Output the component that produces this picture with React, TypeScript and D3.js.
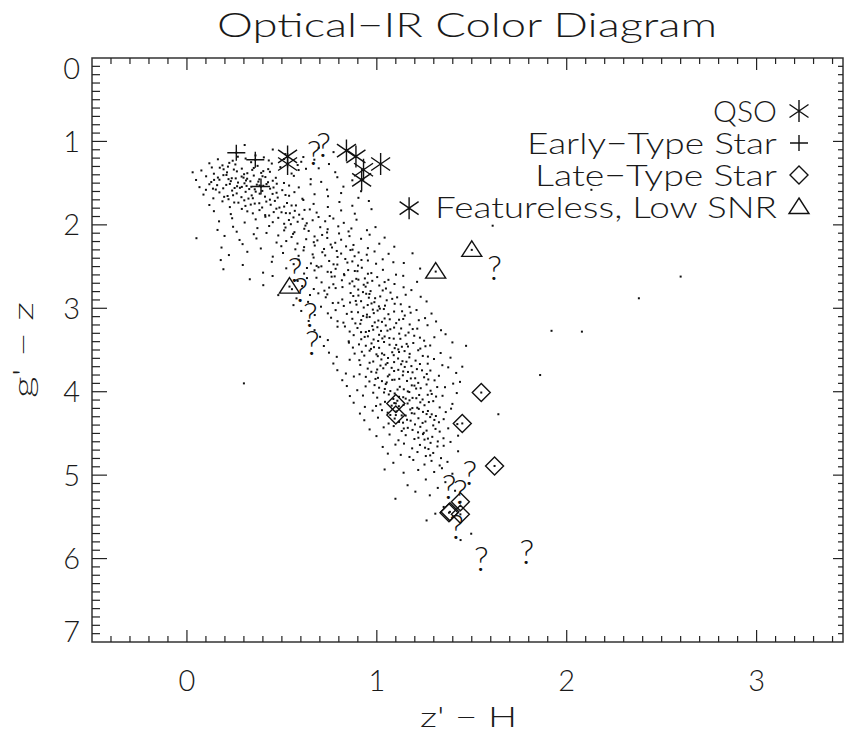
import * as d3 from "d3";
import { useRef, useEffect } from "react";

// axis tick labels
const xTickLabels = ["0", "1", "2", "3"];
const yTickLabels = ["0", "1", "2", "3", "4", "5", "6", "7"];

// background sample, one [z'-H values, g'-z values] pair per 0.1 strip of g'-z
const upperRows: [number[], number[]][] = [
  [[0.304,0.452,0.361,0.518,0.613,0.772,0.268,0.694,0.405],
   [1.043,1.097,1.168,1.152,1.187,1.128,1.183,1.076,1.191]],
  [[0.118,0.163,0.187,0.241,0.255,0.309,0.338,0.372,0.431,0.447,0.512,0.583,0.602,0.671,0.748,0.223],
   [1.262,1.214,1.287,1.231,1.276,1.205,1.249,1.293,1.228,1.265,1.211,1.283,1.244,1.219,1.271,1.257]],
  [[0.076,0.131,0.142,0.193,0.211,0.216,0.263,0.289,0.301,0.344,0.352,0.391,0.428,0.437,0.492,0.551,0.588,0.694,0.781,0.247,0.318,0.173,0.402,0.627],
   [1.348,1.312,1.387,1.334,1.371,1.302,1.359,1.326,1.393,1.341,1.318,1.377,1.332,1.364,1.308,1.385,1.343,1.322,1.369,1.337,1.381,1.315,1.356,1.328]],
  [[0.048,0.101,0.128,0.163,0.171,0.208,0.231,0.236,0.269,0.288,0.311,0.317,0.352,0.376,0.381,0.413,0.452,0.468,0.511,0.563,0.652,0.707,0.792,0.871,0.192,0.257,0.334,0.398,0.143,0.298,0.427,0.219],
   [1.462,1.418,1.487,1.433,1.459,1.402,1.476,1.441,1.493,1.421,1.468,1.447,1.409,1.482,1.454,1.427,1.471,1.436,1.498,1.413,1.452,1.485,1.429,1.466,1.404,1.443,1.478,1.417,1.461,1.434,1.489,1.452]],
  [[0.066,0.118,0.152,0.159,0.191,0.226,0.238,0.264,0.279,0.303,0.328,0.339,0.368,0.397,0.402,0.438,0.473,0.502,0.538,0.589,0.651,0.738,0.824,0.917,0.207,0.251,0.314,0.357,0.419,0.137,0.289,0.382,0.456],
   [1.548,1.513,1.577,1.524,1.562,1.509,1.589,1.537,1.556,1.502,1.571,1.543,1.518,1.593,1.531,1.566,1.507,1.584,1.529,1.551,1.514,1.578,1.542,1.597,1.521,1.558,1.533,1.574,1.511,1.566,1.545,1.528,1.552]],
  [[0.087,0.139,0.171,0.214,0.219,0.262,0.287,0.309,0.341,0.347,0.383,0.411,0.437,0.472,0.478,0.519,0.566,0.608,0.672,0.743,0.812,0.903,0.243,0.362,0.196,0.451,0.324,0.538],
   [1.637,1.682,1.611,1.654,1.693,1.623,1.668,1.604,1.647,1.681,1.626,1.662,1.698,1.615,1.673,1.642,1.608,1.687,1.633,1.657,1.619,1.676,1.645,1.602,1.664,1.629,1.685,1.651]],
  [[0.118,0.187,0.226,0.271,0.302,0.308,0.357,0.396,0.418,0.441,0.463,0.512,0.527,0.574,0.613,0.667,0.742,0.803,0.871,0.958,0.336,0.487,0.249,0.551,0.381],
   [1.762,1.718,1.787,1.734,1.706,1.773,1.745,1.792,1.721,1.759,1.713,1.781,1.738,1.767,1.702,1.749,1.786,1.726,1.771,1.714,1.757,1.793,1.732,1.768,1.741]],
  [[0.142,0.231,0.289,0.347,0.382,0.433,0.457,0.471,0.521,0.568,0.591,0.647,0.683,0.752,0.812,0.884,0.972,0.498,0.412,0.619,0.542,0.318],
   [1.836,1.871,1.809,1.862,1.823,1.888,1.847,1.806,1.859,1.832,1.878,1.815,1.853,1.894,1.827,1.866,1.812,1.849,1.883,1.821,1.861,1.838]],
  [[0.169,0.238,0.304,0.362,0.413,0.452,0.481,0.512,0.537,0.561,0.583,0.609,0.631,0.662,0.693,0.728,0.771,0.826,0.893,0.547],
   [1.958,1.921,1.972,1.934,1.903,1.968,1.916,1.987,1.942,1.911,1.963,1.928,1.981,1.945,1.906,1.957,1.924,1.976,1.938,1.992]],
];

const middleRows: [number[], number[]][] = [
  [[0.161,0.243,0.262,0.371,0.419,0.433,0.512,0.519,0.566,0.618,0.624,0.641,0.702,0.738,0.741,0.797,0.851,0.866,0.948,0.993],
   [2.061,2.023,2.082,2.039,2.097,2.014,2.066,2.032,2.088,2.047,2.009,2.073,2.028,2.091,2.052,2.018,2.079,2.043,2.064,2.027]],
  [[0.198,0.277,0.352,0.366,0.481,0.523,0.551,0.559,0.628,0.672,0.687,0.712,0.739,0.801,0.812,0.856,0.917,0.962,1.041],
   [2.133,2.181,2.112,2.163,2.127,2.194,2.146,2.108,2.172,2.139,2.186,2.121,2.157,2.103,2.178,2.135,2.167,2.118,2.153]],
  [[0.182,0.293,0.389,0.472,0.497,0.571,0.582,0.617,0.668,0.673,0.722,0.757,0.764,0.781,0.838,0.872,0.877,0.953,1.013,1.092],
   [2.272,2.231,2.283,2.212,2.256,2.293,2.224,2.267,2.208,2.248,2.289,2.236,2.271,2.215,2.258,2.297,2.241,2.279,2.226,2.262]],
  [[0.221,0.318,0.452,0.506,0.588,0.614,0.662,0.667,0.713,0.728,0.789,0.793,0.812,0.861,0.883,0.904,0.947,0.988,1.062,1.188],
   [2.362,2.323,2.381,2.337,2.371,2.306,2.354,2.392,2.328,2.366,2.313,2.385,2.344,2.302,2.376,2.331,2.358,2.319,2.347,2.341]],
  [[0.178,0.294,0.447,0.562,0.588,0.653,0.708,0.749,0.792,0.834,0.845,0.901,0.953,0.996,1.031,1.142,0.683,0.871,0.772,1.087,0.919],
   [2.422,2.481,2.443,2.471,2.418,2.462,2.497,2.433,2.476,2.409,2.452,2.488,2.427,2.466,2.413,2.457,2.492,2.438,2.473,2.448,2.421]],
  [[0.192,0.401,0.523,0.617,0.672,0.693,0.741,0.783,0.827,0.884,0.921,0.971,1.032,1.101,1.228,0.759,0.849,0.953,0.632,0.898],
   [2.532,2.573,2.521,2.584,2.546,2.508,2.563,2.527,2.591,2.553,2.514,2.578,2.539,2.597,2.524,2.568,2.542,2.586,2.517,2.555]],
  [[0.331,0.451,0.583,0.632,0.709,0.762,0.816,0.829,0.871,0.937,0.951,1.002,1.061,1.139,1.212,0.892,0.778,0.976,0.682,1.041,0.903],
   [2.652,2.613,2.672,2.638,2.689,2.621,2.664,2.603,2.677,2.642,2.694,2.626,2.659,2.611,2.683,2.647,2.618,2.671,2.634,2.686,2.657]],
  [[0.402,0.553,0.607,0.724,0.771,0.783,0.857,0.902,0.941,0.967,1.013,1.048,1.093,1.182,0.819,0.931,0.668,0.882,1.031,0.749,1.141],
   [2.723,2.771,2.734,2.789,2.712,2.758,2.703,2.776,2.741,2.794,2.727,2.763,2.709,2.782,2.746,2.718,2.769,2.737,2.786,2.752,2.748]],
  [[0.481,0.577,0.692,0.731,0.739,0.818,0.903,0.927,0.958,0.961,1.018,1.072,1.081,1.152,1.231,0.862,0.991,0.648,1.107,0.944,0.876],
   [2.842,2.881,2.821,2.868,2.833,2.894,2.847,2.806,2.873,2.829,2.858,2.812,2.887,2.838,2.862,2.817,2.879,2.841,2.869,2.826,2.853]],
  [[0.561,0.638,0.706,0.797,0.826,0.889,0.893,0.931,0.987,1.043,1.052,1.094,1.172,1.262,0.952,0.768,1.011,0.917,1.126,0.859,0.972],
   [2.962,2.923,2.981,2.934,2.972,2.912,2.956,2.991,2.927,2.968,2.904,2.946,2.983,2.918,2.961,2.937,2.977,2.915,2.952,2.931,2.942]],
  [[0.602,0.673,0.783,0.842,0.867,0.928,0.979,0.984,1.016,1.061,1.133,1.147,1.209,1.288,0.901,1.037,0.948,1.091,0.742,1.004,1.178],
   [3.032,3.081,3.022,3.067,3.043,3.092,3.016,3.058,3.004,3.071,3.036,3.087,3.021,3.063,3.048,3.009,3.076,3.039,3.061,3.027,3.053]],
  [[0.641,0.759,0.824,0.871,0.913,0.918,0.962,1.027,1.041,1.102,1.117,1.173,1.254,1.312,0.947,0.989,1.068,0.887,1.008,1.139,0.793,1.221],
   [3.152,3.113,3.172,3.126,3.186,3.141,3.104,3.163,3.122,3.178,3.137,3.194,3.118,3.158,3.107,3.169,3.132,3.181,3.147,3.128,3.155,3.143]],
  [[0.672,0.793,0.857,0.898,0.942,0.976,0.981,1.047,1.056,1.091,1.167,1.213,1.267,1.338,1.003,0.917,1.128,1.022,0.832,1.071,1.189,0.959],
   [3.262,3.221,3.279,3.236,3.284,3.213,3.257,3.206,3.268,3.231,3.291,3.244,3.203,3.263,3.227,3.286,3.242,3.271,3.218,3.251,3.249,3.272]],
  [[0.701,0.742,0.878,0.918,0.953,1.007,1.012,1.066,1.118,1.124,1.197,1.249,1.303,1.362,0.983,1.041,0.852,1.151,1.089,0.936,1.227,1.029],
   [3.342,3.381,3.322,3.371,3.336,3.392,3.318,3.357,3.304,3.366,3.329,3.388,3.347,3.311,3.374,3.338,3.396,3.325,3.364,3.343,3.352,3.361]],
];

const lowerRows: [number[], number[]][] = [
  [[0.721,0.853,0.874,0.906,0.969,0.972,0.985,1.038,1.094,1.102,1.113,1.157,1.164,1.192,1.229,1.281,1.398,1.012,1.067,1.132,1.256,0.942],
   [3.452,3.412,3.471,3.433,3.487,3.421,3.466,3.404,3.478,3.439,3.493,3.427,3.458,3.416,3.483,3.446,3.409,3.474,3.437,3.461,3.455,3.449]],
  [[0.748,0.789,0.921,0.934,0.962,1.005,1.027,1.059,1.081,1.089,1.146,1.171,1.173,1.218,1.242,1.336,1.388,1.117,1.039,0.883,1.269,0.998],
   [3.532,3.582,3.521,3.567,3.508,3.574,3.541,3.596,3.527,3.562,3.513,3.588,3.546,3.503,3.571,3.536,3.592,3.524,3.558,3.543,3.579,3.552]],
  [[0.771,0.908,0.913,0.981,1.019,1.024,1.056,1.112,1.128,1.135,1.182,1.204,1.268,1.301,1.345,1.091,0.857,1.047,1.156,0.962,1.227],
   [3.662,3.622,3.679,3.638,3.687,3.613,3.656,3.602,3.671,3.634,3.693,3.627,3.664,3.608,3.682,3.645,3.617,3.674,3.641,3.653,3.668]],
  [[0.792,0.837,0.952,0.997,1.002,1.066,1.078,1.139,1.147,1.188,1.211,1.263,1.282,1.376,1.418,1.113,0.909,1.034,1.164,1.238,1.091,0.971],
   [3.742,3.782,3.723,3.771,3.734,3.796,3.714,3.757,3.703,3.768,3.729,3.788,3.746,3.708,3.775,3.738,3.791,3.719,3.763,3.744,3.752,3.761]],
  [[0.818,0.942,0.961,1.006,1.052,1.058,1.093,1.137,1.159,1.202,1.218,1.249,1.304,1.327,1.438,1.118,0.879,1.027,1.179,1.271,1.081,0.993],
   [3.862,3.822,3.877,3.834,3.889,3.816,3.856,3.803,3.871,3.839,3.894,3.827,3.864,3.809,3.882,3.846,3.818,3.873,3.841,3.853,3.858,3.847]],
  [[0.842,0.897,0.988,1.042,1.047,1.109,1.121,1.163,1.198,1.207,1.262,1.283,1.359,1.402,1.142,0.941,1.071,1.184,1.231,1.012,1.318],
   [3.932,3.982,3.921,3.967,3.908,3.974,3.941,3.996,3.927,3.962,3.913,3.988,3.946,3.903,3.971,3.936,3.992,3.924,3.958,3.952,3.944]],
  [[0.858,0.981,1.002,1.063,1.087,1.094,1.139,1.171,1.208,1.223,1.241,1.289,1.312,1.421,1.152,0.927,1.038,1.188,1.268,1.117,1.346],
   [4.052,4.012,4.071,4.033,4.087,4.021,4.066,4.004,4.078,4.039,4.093,4.027,4.058,4.016,4.083,4.046,4.009,4.074,4.037,4.061,4.049]],
  [[0.878,0.937,1.043,1.078,1.108,1.116,1.162,1.187,1.229,1.251,1.297,1.331,1.398,1.172,0.996,1.092,1.213,1.274,1.141,1.019],
   [4.132,4.182,4.121,4.167,4.108,4.174,4.141,4.196,4.127,4.162,4.113,4.188,4.146,4.103,4.171,4.136,4.192,4.124,4.158,4.152]],
  [[0.911,1.027,1.071,1.103,1.131,1.176,1.184,1.221,1.262,1.269,1.311,1.363,1.391,1.198,0.978,1.152,1.243,1.289,1.057],
   [4.262,4.221,4.279,4.236,4.284,4.213,4.257,4.206,4.268,4.231,4.291,4.244,4.203,4.263,4.227,4.286,4.242,4.271,4.251]],
  [[0.934,1.062,1.094,1.138,1.159,1.201,1.219,1.256,1.281,1.327,1.352,1.424,1.178,1.006,1.241,1.303,1.117],
   [4.342,4.381,4.322,4.371,4.336,4.392,4.318,4.357,4.304,4.366,4.329,4.388,4.347,4.311,4.374,4.338,4.362]],
  [[0.962,1.089,1.131,1.163,1.217,1.229,1.262,1.297,1.331,1.376,1.247,1.036,1.188,1.309,1.142],
   [4.452,4.412,4.471,4.433,4.487,4.421,4.466,4.404,4.478,4.439,4.493,4.427,4.458,4.446,4.441]],
  [[0.998,1.114,1.152,1.198,1.243,1.251,1.292,1.321,1.428,1.269,1.067,1.219,1.351],
   [4.532,4.582,4.521,4.567,4.508,4.574,4.541,4.596,4.527,4.562,4.513,4.552,4.558]],
  [[1.031,1.143,1.186,1.227,1.272,1.283,1.319,1.388,1.254,1.098,1.352],
   [4.662,4.622,4.679,4.638,4.687,4.613,4.656,4.602,4.671,4.634,4.648]],
  [[1.058,1.172,1.214,1.258,1.297,1.338,1.428,1.126,1.281],
   [4.742,4.782,4.723,4.771,4.734,4.796,4.714,4.757,4.763]],
  [[1.087,1.192,1.251,1.288,1.331,1.372,1.041,1.141,1.218,1.302,1.343,1.398],
   [4.852,4.818,4.873,4.829,4.884,4.841,4.932,4.971,4.938,4.962,4.917,4.983]],
  [[1.162,1.098,1.258,1.321,1.203,1.361,1.279,1.412,1.262,1.497,1.352,1.308,1.441],
   [5.121,5.283,5.052,5.153,5.198,5.084,5.242,5.187,5.543,5.702,5.381,5.462,5.778]],
];

const outliers: [number, number][] = [
  [0.03,1.37],[0.1,1.58],[0.05,2.16],[0.3,3.9],[1.61,2.01],[2.13,1.58],[2.6,2.62],
  [2.38,2.88],[2.08,3.28],[1.92,3.27],[1.86,3.8],[1.64,4.27],[1.45,3.7],[1.47,3.45],
];

// classified objects
const qso: [number, number][] = [
  [0.53,1.18],[0.53,1.27],[0.84,1.11],[0.89,1.18],[1.02,1.27],[0.93,1.34],[0.92,1.46],[1.17,1.8],
];
const earlyType: [number, number][] = [[0.26,1.135],[0.36,1.22],[0.39,1.54]];
const lateType: [number, number][] = [
  [1.55,4.01],[1.45,4.38],[1.62,4.89],[1.44,5.32],[1.44,5.47],[1.38,5.45],[1.385,5.44],[1.1,4.14],[1.1,4.28],
];
const featureless: [number, number][] = [[0.54,2.74],[1.5,2.3],[1.31,2.56]];
const unknown: [number, number][] = [
  [0.67,1.14],[0.72,1.04],[0.57,2.54],[0.6,2.78],[0.65,3.08],[0.66,3.42],[1.62,2.52],
  [1.49,4.98],[1.38,5.14],[1.44,5.2],[1.42,5.62],[1.55,6.0],[1.79,5.92],
];

const legendItems = [
  { label: "QSO", sym: "asterisk", width: 64 },
  { label: "Early\u2212Type Star", sym: "plus", width: 250 },
  { label: "Late\u2212Type Star", sym: "diamond", width: 242 },
  { label: "Featureless, Low SNR", sym: "triangle", width: 342 },
];

const FONT = "Lato, 'DejaVu Sans', sans-serif";
const INK = "#1a1a1a";

const zipRows = (rows: [number[], number[]][]) =>
  rows.flatMap(([xs, ys]) => d3.zip(xs, ys) as [number, number][]);

const Chart = () => {
  const svgRef = useRef<SVGSVGElement | null>(null);
  const width = 844;
  const height = 734;
  const left = 92, right = 843, top = 58, bottom = 642;

  useEffect(() => {
    document.body.style.margin = "0";
    if (!svgRef.current) return;
    const svg = d3.select(svgRef.current);
    svg.selectAll("*").remove();

    const x = d3.scaleLinear().domain([-0.5, 3.455]).range([left, right]);
    const y = d3.scaleLinear().domain([0, 7]).range([top, bottom]);

    const addText = (
      tx: number, ty: number, str: string, size: number, len?: number, anchor = "start"
    ) => {
      const t = svg.append("text")
        .attr("x", tx).attr("y", ty)
        .attr("font-family", FONT).attr("font-weight", 300)
        .attr("font-size", size).attr("fill", INK)
        .attr("text-anchor", anchor)
        .text(str);
      if (len) t.attr("textLength", len).attr("lengthAdjust", "spacingAndGlyphs");
      return t;
    };

    // symbol drawers
    const drawSym = (g: any, kind: string, cx: number, cy: number) => {
      const s = g.append("g").attr("transform", `translate(${cx},${cy})`)
        .attr("stroke", "#111").attr("stroke-width", 1.4).attr("fill", "none");
      if (kind === "asterisk") {
        s.append("path").attr("d", "M0,-11V11M-9.5,-6.5L9.5,6.5M-9.5,6.5L9.5,-6.5");
      } else if (kind === "plus") {
        s.append("path").attr("d", "M-9,0H9M0,-8V8");
      } else if (kind === "diamond") {
        s.append("path").attr("d", "M0,-9L9,0L0,9L-9,0Z");
      } else if (kind === "triangle") {
        s.append("path").attr("d", "M0,-9L10,6.5H-10Z");
      }
    };

    // scatter dots
    const dots = [...zipRows(upperRows), ...zipRows(middleRows), ...zipRows(lowerRows), ...outliers];
    svg.append("g")
      .selectAll("rect")
      .data(dots)
      .join("rect")
      .attr("x", (d) => x(d[0]) - 1)
      .attr("y", (d) => y(d[1]) - 1)
      .attr("width", 2)
      .attr("height", 2)
      .attr("fill", "#111");

    // classified objects
    const marks = svg.append("g");
    const groups: [string, [number, number][]][] = [
      ["asterisk", qso], ["plus", earlyType], ["diamond", lateType], ["triangle", featureless],
    ];
    groups.forEach(([kind, pts]) => {
      pts.forEach((p) => {
        drawSym(marks, kind, x(p[0]), y(p[1]));
        marks.append("rect").attr("x", x(p[0]) - 1).attr("y", y(p[1]) - 1)
          .attr("width", 2).attr("height", 2).attr("fill", "#111");
      });
    });
    marks.selectAll("text.q")
      .data(unknown)
      .join("text")
      .attr("class", "q")
      .attr("x", (d) => x(d[0]))
      .attr("y", (d) => y(d[1]) + 12)
      .attr("text-anchor", "middle")
      .attr("font-family", FONT).attr("font-weight", 300)
      .attr("font-size", 34).attr("fill", "#111")
      .text("?");

    // frame
    svg.append("rect")
      .attr("x", left).attr("y", top)
      .attr("width", right - left).attr("height", bottom - top)
      .attr("fill", "none").attr("stroke", "#333").attr("stroke-width", 1.5);

    // ticks
    const xt = d3.range(-4, 35).map((i) => i / 10);
    const yt = d3.range(1, 70).map((i) => i / 10);
    const isMajor = (v: number) => Math.abs(v - Math.round(v)) < 1e-6;
    const tickG = svg.append("g").attr("stroke", "#222").attr("stroke-width", 1.2);
    xt.forEach((v) => {
      const L = isMajor(v) ? 12 : 6;
      tickG.append("line").attr("x1", x(v)).attr("x2", x(v)).attr("y1", bottom).attr("y2", bottom - L);
      tickG.append("line").attr("x1", x(v)).attr("x2", x(v)).attr("y1", top).attr("y2", top + L);
    });
    yt.forEach((v) => {
      const L = isMajor(v) ? 15 : 8;
      const R = isMajor(v) ? 10 : 5;
      tickG.append("line").attr("x1", left).attr("x2", left + L).attr("y1", y(v)).attr("y2", y(v));
      tickG.append("line").attr("x1", right).attr("x2", right - R).attr("y1", y(v)).attr("y2", y(v));
    });

    // tick labels
    xTickLabels.forEach((lab) => {
      addText(x(+lab), 691, lab, 29, undefined, "middle");
    });
    yTickLabels.forEach((lab, i) => {
      let cy = y(+lab);
      if (i === 0) cy += 10;
      if (i === yTickLabels.length - 1) cy -= 11;
      addText(80, cy + 10.5, lab, 29, undefined, "end");
    });

    // titles
    addText(217, 37, "Optical\u2212IR Color Diagram", 33, 500);
    addText(420, 727, "z' \u2212 H", 28, 97);
    svg.append("text")
      .attr("transform", "translate(33,350) rotate(-90)")
      .attr("x", -48).attr("y", 0)
      .attr("font-family", FONT).attr("font-weight", 300)
      .attr("font-size", 28).attr("fill", INK)
      .attr("textLength", 96).attr("lengthAdjust", "spacingAndGlyphs")
      .text("g' \u2212 z");

    // legend
    const legend = svg.append("g");
    legendItems.forEach((item, i) => {
      const base = 122 + i * 32;
      addText(777 - item.width, base, item.label, 30, item.width);
      drawSym(legend, item.sym, 799, base - 11);
    });
  }, []);

  return (
    <svg ref={svgRef} width={width} height={height} style={{ display: "block", background: "#fff" }}></svg>
  );
};

export default function App() {
  return <Chart />;
}
